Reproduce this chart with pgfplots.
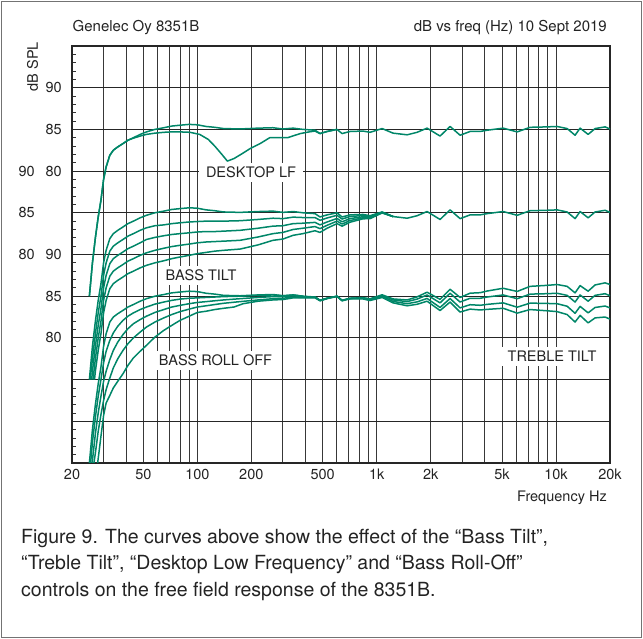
\documentclass[border=0pt]{standalone}
\usepackage{fontspec}
\setmainfont{TeX Gyre Heros}
\usepackage{pgfplots}
\usepackage{pgfplotstable}
\pgfplotsset{compat=1.18}

\definecolor{respc}{RGB}{0,134,104}
\definecolor{txt}{RGB}{35,35,35}
\newcommand\fs{\fontsize{14.5}{17}\selectfont}

% responses in dB relative to 85 dB; each group is shifted on the plot
\pgfplotstableread{
f d
25 -20
26 -16
27 -13
28 -10.5
29 -8.5
30 -6
31 -4.5
32.5 -3.1
34 -2.5
36 -2.1
38.5 -1.7
41 -1.3
44 -1.0
48 -0.6
52 -0.3
58 0.0
65 0.2
72 0.4
80 0.5
90 0.6
100 0.55
112 0.35
125 0.25
140 0.1
173 0.05
218 0.15
264 0.2
300 0.05
342 0.15
388 0.0
453 -0.1
483 -0.5
529 -0.25
601 0
641 -0.5
710 -0.25
839 -0.2
918 -0.35
1072 0.1
1234 -0.45
1478 -0.65
1680 -0.35
1910 0.15
2256 -0.8
2566 0.35
2918 -0.7
3318 -0.25
3773 -0.25
4130 -0.1
5072 0.15
6072 -0.3
7166 0.25
8914 0.3
10138 0.35
11530 0.1
12772 -0.7
13620 0.15
15100 -0.6
16520 0.1
18780 0.3
20000 0.05
}\flat

\pgfplotstableread{
f d
25 -20
26 -16
27 -13
28 -10.5
29 -8.5
30 -6
31 -4.5
32.5 -3.1
34 -2.5
36 -2.1
38.5 -1.7
41 -1.3
44 -1.05
48 -0.8
52 -0.6
58 -0.45
65 -0.35
72 -0.3
80 -0.3
91 -0.35
103 -0.6
115 -1.2
125 -2.0
137 -3.0
147 -3.8
160 -3.5
175 -3.0
197 -2.3
224 -1.7
253 -1.0
290 -1.0
318 -1.0
375 -0.5
420 -0.3
453 -0.2
483 -0.5
529 -0.25
601 0
}\desktop

\pgfplotstableread{
f d
25.25 -20
26 -17.5
27 -14.5
28 -12
29 -10
30 -7.5
31 -6
32.5 -4.6
34 -4.0
36 -3.6
38.5 -3.2
41 -2.8
44 -2.5
48 -2.1
52 -1.8
58 -1.55
65 -1.45
72 -1.3
80 -1.2
90 -1.1
100 -1.05
112 -1.0
125 -1.0
140 -1.0
173 -0.95
218 -0.8
264 -0.65
300 -0.7
342 -0.52
388 -0.57
453 -0.57
483 -0.9
529 -0.62
601 -0.3
641 -0.75
710 -0.45
839 -0.32
918 -0.43
1072 0.07
1234 -0.45
}\tiltA

\pgfplotstableread{
f d
25.75 -20
26 -19
27 -16
28 -13.5
29 -11.5
30 -9
31 -7.5
32.5 -6.1
34 -5.5
36 -5.1
38.5 -4.7
41 -4.3
44 -4.0
48 -3.6
52 -3.2
58 -2.95
65 -2.75
72 -2.6
80 -2.5
90 -2.4
100 -2.3
112 -2.25
125 -2.25
140 -2.2
173 -2.1
218 -1.85
264 -1.6
300 -1.55
342 -1.3
388 -1.25
453 -1.15
483 -1.45
529 -1.1
601 -0.68
641 -1.08
710 -0.7
839 -0.47
918 -0.53
1072 0.04
1234 -0.45
}\tiltB

\pgfplotstableread{
f d
26.2 -20
27 -17.5
28 -15
29 -13
30 -10.5
31 -9
32.5 -7.6
34 -7.0
36 -6.6
38.5 -6.2
41 -5.8
44 -5.5
48 -5.1
52 -4.8
58 -4.5
65 -4.25
72 -4.05
80 -3.9
90 -3.75
100 -3.6
112 -3.5
125 -3.45
140 -3.4
173 -3.3
218 -2.9
264 -2.5
300 -2.35
342 -2.0
388 -1.85
453 -1.65
483 -1.9
529 -1.5
601 -1.0
641 -1.35
710 -0.93
839 -0.6
918 -0.62
1072 0.01
1234 -0.45
}\tiltC

\pgfplotstableread{
f d
26.7 -20
27 -19
28 -16.5
29 -14.5
30 -12
31 -10.5
32.5 -9.1
34 -8.5
36 -8.1
38.5 -7.7
41 -7.3
44 -7.0
48 -6.6
52 -6.3
58 -6.0
65 -5.75
72 -5.5
80 -5.3
90 -5.1
100 -4.9
112 -4.75
125 -4.6
140 -4.5
173 -4.35
218 -3.85
264 -3.3
300 -3.15
342 -2.7
388 -2.5
453 -2.15
483 -2.35
529 -1.85
601 -1.3
641 -1.6
710 -1.13
839 -0.72
918 -0.7
1072 -0.02
1234 -0.45
}\tiltD

\pgfplotstableread{
f d
25.4 -20
26 -17.5
27 -14.5
28 -12
29 -10
30 -8
31 -6.6
32.5 -5.3
34 -4.4
36 -3.6
38.5 -2.9
41 -2.4
44 -2.0
48 -1.6
52 -1.3
58 -0.95
65 -0.7
72 -0.5
80 -0.35
90 -0.25
100 -0.2
112 -0.15
125 -0.1
140 -0.05
173 0
218 0.1
264 0.15
300 0.05
342 0.15
388 0
}\rollA

\pgfplotstableread{
f d
25.9 -20
27 -16.5
28 -14
29 -12
30 -10.2
31 -9
32.5 -7.6
34 -6.5
36 -5.5
38.5 -4.6
41 -3.9
44 -3.3
48 -2.8
52 -2.4
58 -1.95
65 -1.6
72 -1.3
80 -1.1
90 -0.9
100 -0.75
112 -0.65
125 -0.55
140 -0.45
173 -0.3
218 -0.15
264 -0.05
300 -0.05
342 0.05
388 -0.05
453 -0.1
}\rollB

\pgfplotstableread{
f d
26.5 -20
27 -18.8
28 -16.2
29 -14.2
30 -12.5
31 -11.2
32.5 -9.8
34 -8.6
36 -7.5
38.5 -6.5
41 -5.7
44 -5.0
48 -4.3
52 -3.7
58 -3.1
65 -2.6
72 -2.2
80 -1.85
90 -1.55
100 -1.3
112 -1.15
125 -1.0
140 -0.85
173 -0.65
218 -0.45
264 -0.3
300 -0.25
342 -0.1
388 -0.15
453 -0.15
483 -0.5
}\rollC

\pgfplotstableread{
f d
27.8 -20
29 -16.8
30 -14.3
31 -12.8
32.5 -11.9
34 -11.0
36 -10.2
38.5 -9.3
41 -8.3
44 -7.4
48 -6.6
52 -5.9
58 -4.9
65 -4.1
72 -3.5
80 -2.9
90 -2.4
100 -1.95
112 -1.8
125 -1.6
140 -1.45
160 -1.3
180 -0.9
218 -0.6
264 -0.45
300 -0.4
342 -0.2
388 -0.2
453 -0.2
483 -0.55
529 -0.3
}\rollD

\pgfplotstableread{
f d
453 -0.1
483 -0.5
529 -0.25
601 0
641 -0.5
710 -0.25
839 -0.18
918 -0.32
1072 0.17
1234 -0.33
1478 -0.45
1680 -0.08
1910 0.48
2256 -0.38
2566 0.83
2918 -0.15
3318 0.36
3773 0.42
4130 0.62
5072 0.95
6072 0.57
7166 1.18
8914 1.3
10138 1.4
11530 1.18
12772 0.4
13620 1.27
15100 0.6
16520 1.35
18780 1.6
20000 1.4
}\trebUp

\pgfplotstableread{
f d
453 -0.1
483 -0.5
529 -0.25
601 0
641 -0.52
710 -0.28
839 -0.26
918 -0.43
1072 -0.02
1234 -0.63
1478 -0.9
1680 -0.68
1910 -0.27
2256 -1.35
2566 -0.28
2918 -1.4
3318 -1.02
3773 -1.09
4130 -0.98
5072 -0.8
6072 -1.32
7166 -0.83
8914 -0.87
10138 -0.9
11530 -1.2
12772 -2.05
13620 -1.22
15100 -2.0
16520 -1.35
18780 -1.18
20000 -1.4
}\trebDnA

\pgfplotstableread{
f d
453 -0.1
483 -0.52
529 -0.28
601 -0.04
641 -0.55
710 -0.32
839 -0.33
918 -0.52
1072 -0.15
1234 -0.8
1478 -1.15
1680 -0.97
1910 -0.6
2256 -1.72
2566 -0.7
2918 -1.9
3318 -1.55
3773 -1.65
4130 -1.58
5072 -1.45
6072 -2.03
7166 -1.6
8914 -1.75
10138 -1.85
11530 -2.2
12772 -3.1
13620 -2.3
15100 -3.2
16520 -2.6
18780 -2.5
20000 -2.75
}\trebDnB

\begin{document}
\begin{tikzpicture}
\useasboundingbox (-72pt,-176pt) rectangle (571pt,463pt);
\draw[black!55, line width=1.5pt] (-70.5pt,-174.5pt) rectangle (569.5pt,461.5pt);

\begin{axis}[
  at={(0pt,0pt)}, anchor=south west,
  scale only axis, width=538pt, height=417pt,
  xmode=log, xmin=20, xmax=20000, ymin=0, ymax=50,
  xtick={20,50,100,200,500,1000,2000,5000,10000,20000},
  xticklabels={20,50,100,200,500,1k,2k,5k,10k,20k},
  minor xtick={30,40,60,70,80,90,300,400,600,700,800,900,3000,4000,6000,7000,8000,9000},
  ytick={0,5,...,50},
  yticklabels={{},{},{},80,85,90,{},80,85,90,{}},
  minor y tick num=4,
  extra y ticks={25,30,35},
  extra y tick labels={80,85,90},
  extra y tick style={grid=none, yticklabel style={xshift=-27pt}},
  xmajorgrids, xminorgrids, ymajorgrids,
  major x grid style={black!78, line width=0.9pt},
  minor x grid style={black!78, line width=0.9pt},
  major y grid style={black!85, line width=1.0pt},
  axis line style={black!85, line width=1.8pt},
  xtick style={draw=none}, minor x tick style={draw=none},
  major y tick style={draw=none},
  minor y tick style={black!80, line width=0.8pt},
  minor tick length=4pt,
  ytick pos=left,
  tick label style={font=\fs, text=txt, inner sep=0pt},
  xticklabel style={yshift=-6pt},
  yticklabel style={xshift=-10pt},
  resp/.style={color=respc, line width=1.5pt, line join=round},
]
% desktop LF group
\addplot[resp] table[x=f, y expr=\thisrow{d}+40] {\flat};
\addplot[resp] table[x=f, y expr=\thisrow{d}+40] {\desktop};
% bass tilt group
\addplot[resp] table[x=f, y expr=\thisrow{d}+30] {\flat};
\addplot[resp] table[x=f, y expr=\thisrow{d}+30] {\tiltA};
\addplot[resp] table[x=f, y expr=\thisrow{d}+30] {\tiltB};
\addplot[resp] table[x=f, y expr=\thisrow{d}+30] {\tiltC};
\addplot[resp] table[x=f, y expr=\thisrow{d}+30] {\tiltD};
% bass roll-off and treble tilt group
\addplot[resp] table[x=f, y expr=\thisrow{d}+20] {\flat};
\addplot[resp] table[x=f, y expr=\thisrow{d}+20] {\rollA};
\addplot[resp] table[x=f, y expr=\thisrow{d}+20] {\rollB};
\addplot[resp] table[x=f, y expr=\thisrow{d}+20] {\rollC};
\addplot[resp] table[x=f, y expr=\thisrow{d}+20] {\rollD};
\addplot[resp] table[x=f, y expr=\thisrow{d}+20] {\trebUp};
\addplot[resp] table[x=f, y expr=\thisrow{d}+20] {\trebDnA};
\addplot[resp] table[x=f, y expr=\thisrow{d}+20] {\trebDnB};
\end{axis}

\begin{scope}[font=\fs, text=txt]
\node[fill=white, inner xsep=7pt, inner ysep=4pt, anchor=base] at (179pt,285pt) {DESKTOP LF};
\node[fill=white, inner xsep=7pt, inner ysep=4pt, anchor=base] at (129pt,182pt) {BASS TILT};
\node[fill=white, inner xsep=7pt, inner ysep=4pt, anchor=base] at (143.5pt,97pt) {BASS ROLL OFF};
\node[fill=white, inner xsep=7pt, inner ysep=4pt, anchor=base] at (480pt,101pt) {TREBLE TILT};
\node[anchor=base east, inner sep=0pt] at (535pt,-39pt) {Frequency Hz};
\node[rotate=90, anchor=base east, inner sep=0pt] at (-34pt,421pt) {dB SPL};
\end{scope}

\begin{scope}[font=\fontsize{15}{18}\selectfont, text=txt]
\node[anchor=base west, inner sep=0pt] at (0.5pt,431pt) {Genelec Oy 8351B};
\node[anchor=base east, inner sep=0pt] at (535pt,431pt) {dB vs freq (Hz) 10 Sept 2019};
\end{scope}

\begin{scope}[font=\fontsize{19.5}{27}\selectfont, text=txt]
\node[anchor=base west, inner sep=0pt] at (-51pt,-80.3pt) {Figure 9. The curves above show the effect of the “Bass Tilt”,};
\node[anchor=base west, inner sep=0pt] at (-51pt,-107pt) {“Treble Tilt”, “Desktop Low Frequency” and “Bass Roll-Off”};
\node[anchor=base west, inner sep=0pt] at (-51pt,-133.7pt) {controls on the free field response of the 8351B.};
\end{scope}
\end{tikzpicture}
\end{document}
